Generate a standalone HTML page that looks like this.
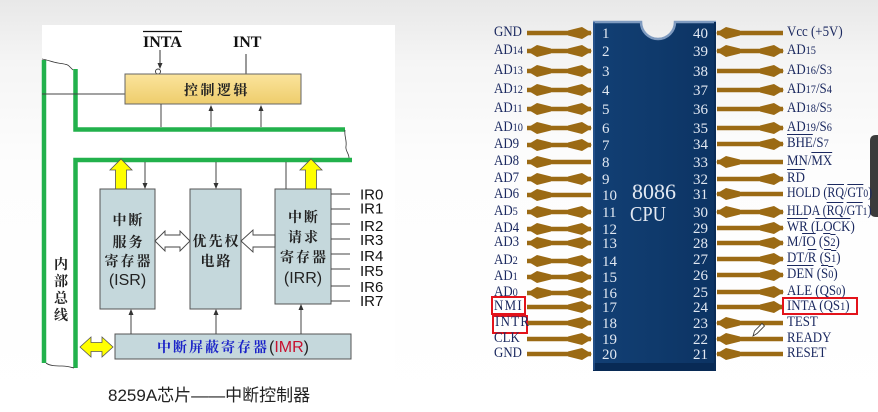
<!DOCTYPE html>
<html><head><meta charset="utf-8">
<style>
html,body{margin:0;padding:0;background:#fff}
#w{position:relative;width:878px;height:412px;overflow:hidden;background:#fff}
svg{position:absolute;left:0;top:0}
.l{position:absolute;font:15px/15px "Liberation Serif",serif;color:#1b2960;white-space:nowrap;transform:scaleX(.86);transform-origin:0 50%}
.l i{font-style:normal;font-size:12px}
.o{text-decoration:overline}
.sp{letter-spacing:1.5px}
</style></head><body><div id="w">
<svg width="878" height="412" viewBox="0 0 878 412">
<defs>
<linearGradient id="bg" x1="0" y1="0" x2="0" y2="1"><stop offset="0" stop-color="#e8e8e8"/><stop offset="0.15" stop-color="#f5f5f5"/><stop offset="0.4" stop-color="#fdfdfd"/><stop offset="1" stop-color="#ffffff"/></linearGradient>
<linearGradient id="cb" x1="0" y1="0" x2="0" y2="1"><stop offset="0" stop-color="#fbe49c"/><stop offset="1" stop-color="#eecd6c"/></linearGradient>
<linearGradient id="chip" x1="0" y1="0" x2="1" y2="0"><stop offset="0" stop-color="#123f74"/><stop offset="0.5" stop-color="#0f3a6c"/><stop offset="1" stop-color="#0c3363"/></linearGradient>
<path id="hR" d="M0,0 L-10,-6 L-24,-2.5 L-24,2.5 L-10,6 Z"/>
<path id="hL" d="M0,0 L10,-6 L24,-2.5 L24,2.5 L10,6 Z"/>
</defs>
<rect x="0" y="0" width="878" height="412" fill="url(#bg)"/>
<rect x="42" y="25" width="353" height="387" fill="#ffffff"/>

<!-- ===== LEFT DIAGRAM ===== -->
<g fill="none" stroke="#22b14c" stroke-width="4.5">
<path d="M44,60 V363"/>
<path d="M75.5,69 V129.5 H345"/>
<path d="M352,160 H75.5 V368"/>
</g>
<g fill="none" stroke="#333" stroke-width="0.8">
<path d="M42,59 C48,60 52,62 58,63 C64,64 68,64 70,67 L73,70"/>
<path d="M345,130 C344,136 347,140 346,146 C345,151 349,153 349,158"/>
<path d="M46,363 C50,366 56,366 62,366 C67,366 70,367 74,368"/>
</g>

<text x="143" y="47" font-family="Liberation Serif" font-weight="bold" font-size="16" fill="#111">INTA</text>
<line x1="143" y1="31.5" x2="182" y2="31.5" stroke="#111" stroke-width="1.3"/>
<text x="233" y="47" font-family="Liberation Serif" font-weight="bold" font-size="16" fill="#111">INT</text>
<line x1="160" y1="50" x2="160" y2="64" stroke="#333" stroke-width="1"/>
<polygon points="157.5,63 162.5,63 160,69" fill="#333"/>
<circle cx="158" cy="71.5" r="2.5" fill="#fff" stroke="#333" stroke-width="0.9"/>
<line x1="246" y1="54" x2="246" y2="74" stroke="#333" stroke-width="1"/>

<line x1="42" y1="94" x2="125" y2="94" stroke="#444" stroke-width="1"/>
<rect x="125" y="74" width="176" height="30" fill="url(#cb)" stroke="#666" stroke-width="1"/>
<text x="184" y="95" font-family="Noto Serif CJK SC, serif" font-weight="bold" font-size="14" letter-spacing="2.5" fill="#222">控制逻辑</text>
<g stroke="#444" stroke-width="1">
<line x1="161" y1="104" x2="161" y2="127"/>
<line x1="211" y1="110" x2="211" y2="127"/>
<line x1="261" y1="110" x2="261" y2="127"/>
</g>
<g fill="#333">
<polygon points="208.5,111 213.5,111 211,105"/>
<polygon points="258.5,111 263.5,111 261,105"/>
</g>

<g fill="#ffff00" stroke="#555" stroke-width="0.8">
<path d="M121,159 L132,170 L126.5,170 L126.5,189 L115.5,189 L115.5,170 L110,170 Z"/>
<path d="M311,159 L322,170 L316.5,170 L316.5,189 L305.5,189 L305.5,170 L300,170 Z"/>
</g>
<g stroke="#444" stroke-width="1">
<line x1="145" y1="162" x2="145" y2="184"/>
<line x1="216" y1="162" x2="216" y2="184"/>
<line x1="286" y1="162" x2="286" y2="189"/>
</g>
<g fill="#333">
<polygon points="142.5,183 147.5,183 145,189"/>
<polygon points="213.5,183 218.5,183 216,189"/>
</g>

<g fill="#c5d8dc" stroke="#555" stroke-width="1">
<rect x="100" y="189" width="55" height="120"/>
<rect x="190" y="189" width="51" height="120"/>
<rect x="275" y="189" width="56" height="115"/>
<rect x="115" y="334" width="236" height="25"/>
</g>

<g fill="#fff" stroke="#444" stroke-width="0.9">
<path d="M155,241 L165,231 L165,235 L180,235 L180,231 L190,241 L180,251 L180,247 L165,247 L165,251 Z"/>
<path d="M241,241 L253,230 L253,235 L275,235 L275,247 L253,247 L253,252 Z"/>
</g>

<g font-family="Noto Serif CJK SC, serif" font-weight="bold" font-size="14" fill="#222" text-anchor="middle" letter-spacing="2">
<text x="128.5" y="225">中断</text>
<text x="128.5" y="247">服务</text>
<text x="128.5" y="266">寄存器</text>
<text x="216.5" y="246">优先权</text>
<text x="216.5" y="266">电路</text>
<text x="304" y="222">中断</text>
<text x="304" y="242">请求</text>
<text x="304" y="262">寄存器</text>
</g>
<g font-family="Liberation Sans, sans-serif" font-size="16" fill="#222" text-anchor="middle">
<text x="127.5" y="285">(ISR)</text>
<text x="303" y="283">(IRR)</text>
</g>

<g stroke="#444" stroke-width="1">
<line x1="331" y1="194" x2="350" y2="194"/>
<line x1="331" y1="209" x2="350" y2="209"/>
<line x1="331" y1="224" x2="350" y2="224"/>
<line x1="331" y1="239" x2="350" y2="239"/>
<line x1="331" y1="254" x2="350" y2="254"/>
<line x1="331" y1="269" x2="350" y2="269"/>
<line x1="331" y1="286" x2="350" y2="286"/>
<line x1="331" y1="301" x2="350" y2="301"/>
</g>
<g font-family="Liberation Sans, sans-serif" font-size="15" fill="#111">
<text x="360" y="199.5">IR0</text>
<text x="360" y="213.5">IR1</text>
<text x="360" y="231">IR2</text>
<text x="360" y="245">IR3</text>
<text x="360" y="261">IR4</text>
<text x="360" y="276">IR5</text>
<text x="360" y="292">IR6</text>
<text x="360" y="306">IR7</text>
</g>

<g stroke="#444" stroke-width="1">
<line x1="131" y1="315" x2="131" y2="334"/>
<line x1="216" y1="315" x2="216" y2="334"/>
<line x1="301" y1="310" x2="301" y2="334"/>
</g>
<g fill="#333">
<polygon points="128.5,315 133.5,315 131,309"/>
<polygon points="213.5,315 218.5,315 216,309"/>
<polygon points="298.5,310 303.5,310 301,304"/>
</g>
<text x="157" y="352" font-family="Noto Serif CJK SC, serif" font-weight="bold" font-size="14" letter-spacing="2" fill="#1a22c8">中断屏蔽寄存器<tspan font-family="Liberation Sans, sans-serif" font-weight="normal" font-size="16" letter-spacing="0" fill="#222">(</tspan><tspan font-family="Liberation Sans, sans-serif" font-weight="normal" font-size="16" letter-spacing="0" fill="#c8102e">IMR</tspan><tspan font-family="Liberation Sans, sans-serif" font-weight="normal" font-size="16" letter-spacing="0" fill="#222">)</tspan></text>

<path d="M80,347 L91,337 L91,342.5 L102,342.5 L102,337 L113,347 L102,357 L102,351.5 L91,351.5 L91,357 Z" fill="#ffff00" stroke="#555" stroke-width="0.8"/>

<g font-family="Noto Serif CJK SC, serif" font-weight="bold" font-size="14" fill="#222" text-anchor="middle">
<text x="61" y="269">内</text>
<text x="61" y="286">部</text>
<text x="61" y="303">总</text>
<text x="61" y="320">线</text>
</g>

<text x="108" y="401" font-family="Liberation Sans, Noto Sans CJK SC, sans-serif" font-size="17" fill="#222">8259A芯片——中断控制器</text>

<!-- ===== RIGHT: 8086 CHIP ===== -->
<path d="M593,21 H641 A17,17 0 0 0 675,21 H716 V371 H593 Z" fill="url(#chip)"/>
<rect x="593" y="363" width="123" height="8" fill="#082a55"/>
<path d="M593,22 H641 A17,17 0 0 0 675,22 H716" fill="none" stroke="#7f9bc0" stroke-width="2.5"/>
<line x1="594" y1="22" x2="594" y2="370" stroke="#2b5690" stroke-width="1.5"/>
<line x1="715" y1="22" x2="715" y2="370" stroke="#0a2c57" stroke-width="2"/>

<g font-family="Liberation Serif, serif" font-size="15" fill="#e1e8f2">
<text x="602" y="38">1</text><text x="602" y="56">2</text><text x="602" y="76">3</text><text x="602" y="95">4</text>
<text x="602" y="114">5</text><text x="602" y="133">6</text><text x="602" y="150">7</text><text x="602" y="167">8</text>
<text x="602" y="184">9</text><text x="602" y="200">10</text><text x="602" y="217">11</text><text x="602" y="234">12</text>
<text x="602" y="248">13</text><text x="602" y="266">14</text><text x="602" y="282">15</text><text x="602" y="298">16</text>
<text x="602" y="312">17</text><text x="602" y="328">18</text><text x="602" y="344">19</text><text x="602" y="359">20</text>
</g>
<g font-family="Liberation Serif, serif" font-size="15" fill="#e1e8f2" text-anchor="end">
<text x="708" y="38">40</text><text x="708" y="56">39</text><text x="708" y="76">38</text><text x="708" y="95">37</text>
<text x="708" y="114">36</text><text x="708" y="133">35</text><text x="708" y="149">34</text><text x="708" y="167">33</text>
<text x="708" y="184">32</text><text x="708" y="199">31</text><text x="708" y="217">30</text><text x="708" y="233">29</text>
<text x="708" y="248">28</text><text x="708" y="264">27</text><text x="708" y="280">26</text><text x="708" y="297">25</text>
<text x="708" y="312">24</text><text x="708" y="328">23</text><text x="708" y="344">22</text><text x="708" y="359">21</text>
</g>
<text x="632" y="199" font-family="Liberation Serif, serif" font-size="22" fill="#e3e9f2">8086</text>
<text x="630" y="221" font-family="Liberation Serif, serif" font-size="21" fill="#e3e9f2" textLength="36" lengthAdjust="spacingAndGlyphs">CPU</text>

<!-- left pin arrows -->
<g stroke="#9b6a14" stroke-width="4.5">
<line x1="527" y1="33" x2="591" y2="33"/><line x1="527" y1="51" x2="591" y2="51"/><line x1="527" y1="71" x2="591" y2="71"/>
<line x1="527" y1="90" x2="591" y2="90"/><line x1="527" y1="109" x2="591" y2="109"/><line x1="527" y1="128" x2="591" y2="128"/>
<line x1="527" y1="145" x2="591" y2="145"/><line x1="527" y1="162" x2="591" y2="162"/><line x1="527" y1="179" x2="591" y2="179"/>
<line x1="527" y1="195" x2="591" y2="195"/><line x1="527" y1="212" x2="591" y2="212"/><line x1="527" y1="229" x2="591" y2="229"/>
<line x1="527" y1="243" x2="591" y2="243"/><line x1="527" y1="261" x2="591" y2="261"/><line x1="527" y1="277" x2="591" y2="277"/>
<line x1="527" y1="293" x2="591" y2="293"/><line x1="527" y1="307" x2="591" y2="307"/><line x1="527" y1="323" x2="591" y2="323"/>
<line x1="527" y1="339" x2="591" y2="339"/><line x1="527" y1="354" x2="591" y2="354"/>
</g>
<g fill="#9b6a14">
<use href="#hR" x="592" y="33"/>
<use href="#hR" x="592" y="51"/><use href="#hL" x="527" y="51"/>
<use href="#hR" x="592" y="71"/><use href="#hL" x="527" y="71"/>
<use href="#hR" x="592" y="90"/><use href="#hL" x="527" y="90"/>
<use href="#hR" x="592" y="109"/><use href="#hL" x="527" y="109"/>
<use href="#hR" x="592" y="128"/><use href="#hL" x="527" y="128"/>
<use href="#hR" x="592" y="145"/><use href="#hL" x="527" y="145"/>
<use href="#hL" x="527" y="162"/>
<use href="#hR" x="592" y="179"/><use href="#hL" x="527" y="179"/>
<use href="#hL" x="527" y="195"/>
<use href="#hR" x="592" y="212"/><use href="#hL" x="527" y="212"/>
<use href="#hR" x="592" y="229"/><use href="#hL" x="527" y="229"/>
<use href="#hR" x="592" y="243"/><use href="#hL" x="527" y="243"/>
<use href="#hR" x="592" y="261"/><use href="#hL" x="527" y="261"/>
<use href="#hR" x="592" y="277"/><use href="#hL" x="527" y="277"/>
<use href="#hR" x="592" y="293"/><use href="#hL" x="527" y="293"/>
<use href="#hR" x="592" y="307"/>
<use href="#hR" x="592" y="323"/>
<use href="#hR" x="592" y="339"/>
<use href="#hR" x="592" y="354"/>
</g>

<!-- right pin arrows -->
<g stroke="#9b6a14" stroke-width="4.5">
<line x1="717" y1="33" x2="783" y2="33"/><line x1="717" y1="51" x2="783" y2="51"/><line x1="717" y1="71" x2="783" y2="71"/>
<line x1="717" y1="90" x2="783" y2="90"/><line x1="717" y1="109" x2="783" y2="109"/><line x1="717" y1="128" x2="783" y2="128"/>
<line x1="717" y1="144" x2="783" y2="144"/><line x1="717" y1="162" x2="783" y2="162"/><line x1="717" y1="179" x2="783" y2="179"/>
<line x1="717" y1="194" x2="783" y2="194"/><line x1="717" y1="212" x2="783" y2="212"/><line x1="717" y1="228" x2="783" y2="228"/>
<line x1="717" y1="243" x2="783" y2="243"/><line x1="717" y1="259" x2="783" y2="259"/><line x1="717" y1="275" x2="783" y2="275"/>
<line x1="717" y1="292" x2="783" y2="292"/><line x1="717" y1="307" x2="783" y2="307"/><line x1="717" y1="323" x2="783" y2="323"/>
<line x1="717" y1="339" x2="783" y2="339"/><line x1="717" y1="354" x2="783" y2="354"/>
</g>
<g fill="#9b6a14">
<use href="#hL" x="716" y="33"/>
<use href="#hL" x="716" y="51"/><use href="#hR" x="784" y="51"/>
<use href="#hR" x="784" y="71"/>
<use href="#hR" x="784" y="90"/>
<use href="#hR" x="784" y="109"/>
<use href="#hR" x="784" y="128"/>
<use href="#hR" x="784" y="144"/>
<use href="#hL" x="716" y="162"/>
<use href="#hR" x="784" y="179"/>
<use href="#hL" x="716" y="194"/>
<use href="#hL" x="716" y="212"/><use href="#hR" x="784" y="212"/>
<use href="#hR" x="784" y="228"/>
<use href="#hR" x="784" y="243"/>
<use href="#hR" x="784" y="259"/>
<use href="#hR" x="784" y="275"/>
<use href="#hR" x="784" y="292"/>
<use href="#hR" x="784" y="307"/>
<use href="#hL" x="716" y="323"/>
<use href="#hL" x="716" y="339"/>
<use href="#hL" x="716" y="354"/>
</g>

<g fill="none" stroke="#e3131b" stroke-width="2">
<rect x="492" y="297" width="33" height="17"/>
<rect x="493" y="316" width="34" height="17"/>
<rect x="783" y="298" width="74" height="16"/>
</g>

<path d="M753,336 L754.5,331 L762,323.5 L764.5,326 L757,333.5 Z" fill="#fff" stroke="#333" stroke-width="0.8"/>

<path d="M878,135 H876 Q870,135 870,141 V211 Q870,217 876,217 H878 Z" fill="#3b3b3b"/>
</svg>

<!-- left labels -->
<div class="l" style="left:494px;top:25px">GND</div>
<div class="l" style="left:494px;top:43px">AD<i>14</i></div>
<div class="l" style="left:494px;top:63px">AD<i>13</i></div>
<div class="l" style="left:494px;top:82px">AD<i>12</i></div>
<div class="l" style="left:494px;top:101px">AD<i>11</i></div>
<div class="l" style="left:494px;top:120px">AD<i>10</i></div>
<div class="l" style="left:494px;top:137px">AD9</div>
<div class="l" style="left:494px;top:154px">AD8</div>
<div class="l" style="left:494px;top:171px">AD7</div>
<div class="l" style="left:494px;top:187px">AD6</div>
<div class="l" style="left:494px;top:204px">AD<i>5</i></div>
<div class="l" style="left:494px;top:221px">AD4</div>
<div class="l" style="left:494px;top:235px">AD3</div>
<div class="l" style="left:494px;top:253px">AD<i>2</i></div>
<div class="l" style="left:494px;top:269px">AD<i>1</i></div>
<div class="l" style="left:494px;top:285px">AD<i>0</i></div>
<div class="l sp" style="left:494px;top:299px">NMI</div>
<div class="l sp" style="left:495px;top:315px">INTR</div>
<div class="l" style="left:494px;top:331px">CLK</div>
<div class="l" style="left:494px;top:346px">GND</div>

<!-- right labels -->
<div class="l" style="left:787px;top:25px">Vcc (+5V)</div>
<div class="l" style="left:787px;top:43px">AD<i>15</i></div>
<div class="l" style="left:787px;top:63px">AD<i>16</i>/S<i>3</i></div>
<div class="l" style="left:787px;top:82px">AD<i>17</i>/S<i>4</i></div>
<div class="l" style="left:787px;top:101px">AD<i>18</i>/S<i>5</i></div>
<div class="l" style="left:787px;top:120px">AD<i>19</i>/S<i>6</i></div>
<div class="l" style="left:787px;top:136px"><span class="o">BHE</span>/S<i>7</i></div>
<div class="l" style="left:787px;top:154px">MN/<span class="o">MX</span></div>
<div class="l" style="left:787px;top:171px"><span class="o">RD</span></div>
<div class="l" style="left:787px;top:186px;transform:scaleX(.8)">HOLD (<span class="o">RQ</span>/<span class="o">GT</span><i>0</i>)</div>
<div class="l" style="left:787px;top:204px;transform:scaleX(.8)">HLDA (<span class="o">RQ</span>/<span class="o">GT</span><i>1</i>)</div>
<div class="l" style="left:787px;top:220px"><span class="o">WR</span> (<span class="o">LOCK</span>)</div>
<div class="l" style="left:787px;top:235px">M/<span class="o">IO</span> (<span class="o">S<i>2</i></span>)</div>
<div class="l" style="left:787px;top:251px">DT/<span class="o">R</span> (<span class="o">S<i>1</i></span>)</div>
<div class="l" style="left:787px;top:267px"><span class="o">DEN</span> (<span class="o">S<i>0</i></span>)</div>
<div class="l" style="left:787px;top:284px">ALE (QS<i>0</i>)</div>
<div class="l" style="left:787px;top:299px">INTA (QS<i>1</i>)</div>
<div class="l" style="left:787px;top:315px">TEST</div>
<div class="l" style="left:787px;top:331px">READY</div>
<div class="l" style="left:787px;top:346px">RESET</div>
</div></body></html>
